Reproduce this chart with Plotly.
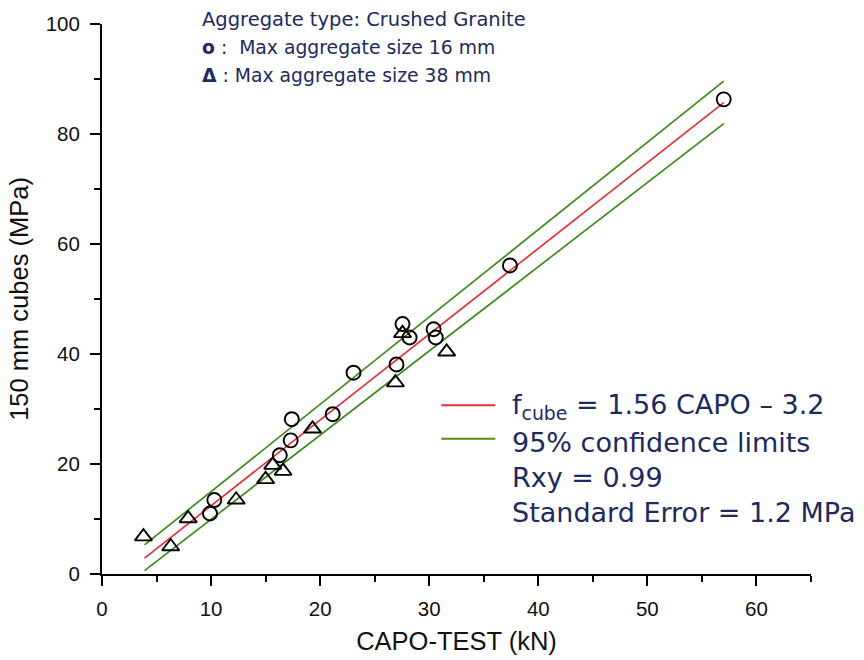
import plotly.graph_objects as go

# ---- data ----
# o : max aggregate size 16 mm
capo_16 = [57.0, 37.4, 27.55, 28.2, 30.4, 30.6, 27.0, 23.06, 21.15, 17.4, 17.3, 16.3, 10.3, 9.9]
cube_16 = [86.3, 56.1, 45.45, 43.0, 44.5, 43.0, 38.1, 36.6, 29.05, 28.15, 24.3, 21.6, 13.45, 11.0]

# Δ : max aggregate size 38 mm
capo_38 = [3.8, 6.3, 7.9, 12.3, 15.0, 15.65, 16.6, 19.3, 26.9, 27.55, 31.6]
cube_38 = [6.8, 5.0, 10.1, 13.5, 17.2, 19.8, 18.7, 26.4, 34.8, 43.75, 40.4]

# regression line f_cube = 1.56 CAPO - 3.2 and 95 % confidence limits
fit_x = [3.9, 57.0]
fit_y = [2.9, 85.7]
conf_x = [3.9, 57.0]
conf_upper = [5.3, 89.6]
conf_lower = [0.6, 81.9]

x_ticks = [0, 10, 20, 30, 40, 50, 60]
y_ticks = [0, 20, 40, 60, 80, 100]

RED = "#e3303c"
GREEN = "#3f8a1c"
NAVY = "#1e2a5e"
TXT = "DejaVu Sans"
AX = "Liberation Sans, Arial"

fig = go.Figure()

fig.add_trace(go.Scatter(x=conf_x, y=conf_upper, mode="lines",
                         line=dict(color=GREEN, width=1.7), showlegend=False))
fig.add_trace(go.Scatter(x=conf_x, y=conf_lower, mode="lines",
                         line=dict(color=GREEN, width=1.7), showlegend=False))
fig.add_trace(go.Scatter(x=fit_x, y=fit_y, mode="lines",
                         line=dict(color=RED, width=1.7), showlegend=False))

fig.add_trace(go.Scatter(x=capo_16, y=cube_16, mode="markers",
                         marker=dict(symbol="circle-open", size=14, color="black",
                                     line=dict(width=1.9, color="black")),
                         showlegend=False))
fig.add_trace(go.Scatter(x=capo_38, y=cube_38, mode="markers",
                         marker=dict(symbol="triangle-up-open", size=15, color="black",
                                     line=dict(width=1.9, color="black")),
                         showlegend=False))

# legend samples
fig.add_shape(type="line", x0=31.1, x1=36.05, y0=30.7, y1=30.7, xref="x", yref="y",
              line=dict(color=RED, width=2))
fig.add_shape(type="line", x0=31.1, x1=36.05, y0=24.6, y1=24.6, xref="x", yref="y",
              line=dict(color="#5e8a12", width=2))

# header text (paper coordinates: plot area is 102..811 px wide, 24..574 px tall)
def px_x(px):
    return (px - 102) / 709.0

def px_y(py):
    return (574 - py) / 550.0

header = [
    (200, 20, "Aggregate type: Crushed Granite", 19.5),
    (200, 48, "<b>o</b> :\u00a0 Max aggregate size 16 mm", 18.8),
    (200, 75, "<b>Δ</b> : Max aggregate size 38 mm", 18.8),
]
for x, y, t, s in header:
    fig.add_annotation(x=px_x(x), y=px_y(y), xref="paper", yref="paper", text=t,
                       showarrow=False, xanchor="left", yanchor="middle",
                       font=dict(family=TXT, size=s, color=NAVY))

legend_txt = [
    (37.4, 30.5, "f<sub>cube</sub> = 1.56 CAPO – 3.2"),
    (37.4, 24.0, "95% confidence limits"),
    (37.4, 17.5, "Rxy = 0.99"),
    (37.4, 11.2, "Standard Error = 1.2 MPa"),
]
for x, y, t in legend_txt:
    fig.add_annotation(x=x, y=y, xref="x", yref="y", text=t, showarrow=False,
                       xanchor="left", yanchor="middle",
                       font=dict(family=TXT, size=27, color=NAVY))

axis_font = dict(family=AX, size=20.5, color="#111111")

fig.update_xaxes(range=[0, 65], tickvals=x_ticks, ticktext=[str(v) for v in x_ticks],
                 ticks="outside", ticklen=10, tickwidth=2, tickcolor="black",
                 showline=True, linewidth=2, linecolor="black",
                 showgrid=False, zeroline=False, tickfont=axis_font,
                 ticklabelstandoff=5,
                 minor=dict(dtick=5, tick0=0, ticks="outside", ticklen=6, tickwidth=1.5,
                            tickcolor="black", showgrid=False),
                 title=dict(text="CAPO-TEST (kN)", standoff=14,
                            font=dict(family=AX, size=25.5, color="#111111")))
fig.update_yaxes(range=[0, 100], tickvals=y_ticks, ticktext=[str(v) for v in y_ticks],
                 ticks="outside", ticklen=10, tickwidth=2, tickcolor="black",
                 showline=True, linewidth=2, linecolor="black",
                 showgrid=False, zeroline=False, tickfont=axis_font,
                 ticklabelstandoff=6,
                 minor=dict(dtick=10, tick0=0, ticks="outside", ticklen=6, tickwidth=1.5,
                            tickcolor="black", showgrid=False),
                 title=dict(text="150 mm cubes (MPa)", standoff=10,
                            font=dict(family=AX, size=25.5, color="#111111")))

fig.update_layout(width=864, height=660,
                  margin=dict(l=102, r=53, t=24, b=86, autoexpand=False),
                  plot_bgcolor="white", paper_bgcolor="white",
                  showlegend=False)

fig.write_html("out.html")
